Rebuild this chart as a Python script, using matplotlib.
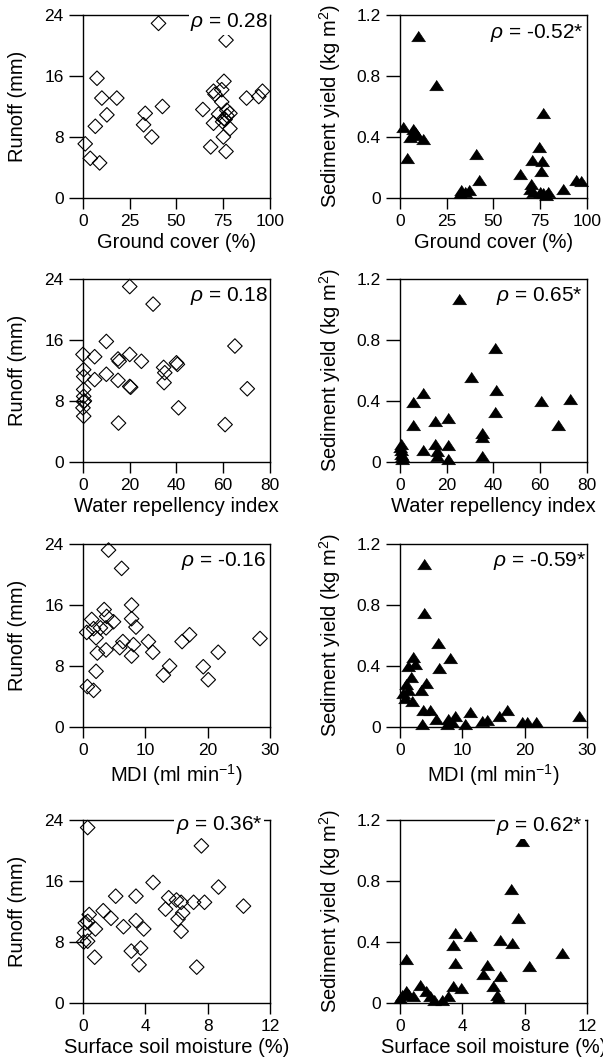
import matplotlib
matplotlib.use('Agg')
import matplotlib.pyplot as plt

plt.rcParams['font.family'] = ['Liberation Sans', 'DejaVu Sans']
plt.rcParams['mathtext.fontset'] = 'custom'
plt.rcParams['mathtext.rm'] = 'Liberation Sans'
plt.rcParams['mathtext.it'] = 'Liberation Sans:italic'

# ground cover (%) vs runoff (mm)
gc_runoff_x = [40.4, 76.5, 7.5, 75.4, 10.1, 18.1, 69.8, 74.2, 87.5, 94.0, 96.0, 12.8, 33.3,
               42.5, 64.1, 74.2, 76.9, 78.6, 75.4, 74.7, 69.8, 78.6, 75.1, 6.6, 32.4, 36.8,
               1.2, 3.9, 8.9, 68.3, 76.5, 70.6, 72.5, 77.0, 76.0]
gc_runoff_y = [22.9, 20.7, 15.7, 15.3, 13.1, 13.1, 14.0, 14.2, 13.1, 13.3, 14.0, 10.9, 11.1,
               12.0, 11.6, 12.6, 11.5, 11.1, 10.4, 10.0, 9.8, 9.1, 8.0, 9.4, 9.6, 8.0,
               7.1, 5.2, 4.6, 6.7, 6.1, 13.6, 11.0, 10.8, 10.3]
# ground cover (%) vs sediment yield
gc_sed_x = [9.8, 19.2, 1.4, 7.1, 8.0, 5.3, 12.1, 8.9, 3.9, 40.4, 42.3, 32.9, 34.7, 37.0,
            76.5, 74.2, 70.6, 76.0, 75.3, 64.1, 70.3, 69.4, 71.2, 74.7, 76.5, 79.2, 87.2,
            94.3, 96.6, 32.0, 78.3]
gc_sed_y = [1.064, 0.742, 0.467, 0.45, 0.43, 0.40, 0.39, 0.41, 0.26, 0.29, 0.12, 0.05, 0.04,
            0.05, 0.555, 0.335, 0.25, 0.24, 0.18, 0.16, 0.09, 0.06, 0.04, 0.04, 0.03, 0.04,
            0.06, 0.12, 0.11, 0.03, 0.02]

# water repellency index vs runoff
wr_runoff_x = [20, 30, 10, 65, 0, 5, 20, 15, 15.5, 25, 34.5, 40, 40.4, 0.3, 0.3, 5, 10, 15,
               20, 20.4, 35, 34.7, 0.3, 0.3, 0.3, 0, 0.3, 40.9, 70.3, 15.2, 60.8, 0.6]
wr_runoff_y = [23.0, 20.7, 15.8, 15.2, 14.1, 13.8, 14.1, 13.5, 13.2, 13.2, 12.4, 13.0, 12.8,
               12.1, 11.2, 10.8, 11.5, 10.7, 9.9, 9.8, 11.7, 10.4, 9.5, 8.6, 7.9, 7.1, 6.0,
               7.1, 9.6, 5.1, 4.9, 8.0]
# water repellency index vs sediment yield
wr_sed_x = [25.2, 40.7, 30.3, 10, 40.9, 5.4, 60.5, 72.9, 40.7, 5.4, 14.9, 20.6, 35.2, 35.3,
            67.6, 0.4, 0.4, 0.7, 0.7, 10, 15.2, 15.7, 15.7, 20.6, 20.6, 35.3, 0, 0.4]
wr_sed_y = [1.07, 0.75, 0.56, 0.45, 0.47, 0.39, 0.40, 0.41, 0.33, 0.24, 0.27, 0.29, 0.19,
            0.165, 0.24, 0.12, 0.08, 0.04, 0.02, 0.08, 0.12, 0.07, 0.04, 0.11, 0.02, 0.04,
            0.10, 0.055]

# MDI (ml min-1) vs runoff
mdi_runoff_x = [4.1, 6.2, 3.4, 7.8, 1.4, 3.8, 4.9, 7.8, 0.6, 1.7, 2.8, 3.7, 8.5, 2.1, 6.4,
                10.5, 15.9, 17.1, 28.4, 5.9, 3.7, 8.1, 2.3, 7.8, 11.2, 21.7, 13.9, 19.3,
                12.9, 2.1, 20.1, 0.7, 1.7]
mdi_runoff_y = [23.2, 20.8, 15.4, 16.0, 14.1, 14.5, 13.8, 14.2, 12.4, 12.9, 13.0, 13.0,
                13.1, 11.7, 11.2, 11.2, 11.2, 12.1, 11.6, 10.4, 10.1, 10.8, 9.7, 9.3, 9.8,
                9.8, 8.0, 7.9, 6.8, 7.3, 6.2, 5.3, 4.8]
# MDI vs sediment yield
mdi_sed_x = [3.8, 3.8, 6.1, 2.1, 8.0, 6.3, 1.3, 2.4, 1.7, 4.2, 1.0, 3.3, 0.5, 1.3, 0.8,
             2.0, 3.7, 4.8, 5.8, 3.6, 7.5, 8.3, 8.8, 11.2, 10.4, 13.1, 14.0, 15.9, 17.2,
             19.6, 20.4, 21.9, 28.7, 7.7]
mdi_sed_y = [1.07, 0.75, 0.55, 0.46, 0.45, 0.39, 0.40, 0.41, 0.33, 0.29, 0.28, 0.24, 0.22,
             0.24, 0.19, 0.17, 0.11, 0.11, 0.055, 0.02, 0.02, 0.03, 0.07, 0.10, 0.02, 0.04,
             0.045, 0.07, 0.11, 0.03, 0.03, 0.03, 0.07, 0.055]

# surface soil moisture (%) vs runoff
sm_runoff_x = [0.3, 7.6, 4.5, 8.7, 2.1, 3.4, 5.5, 6.0, 6.3, 7.1, 7.8, 10.3, 1.3, 5.3, 6.4,
               0.4, 1.8, 3.4, 6.1, 0.15, 0.3, 2.6, 3.9, 0.8, 0.1, 6.3, 0.3, 0.05, 3.1, 3.7,
               0.75, 3.6, 7.3]
sm_runoff_y = [23.0, 20.6, 15.8, 15.2, 14.0, 14.0, 13.8, 13.5, 13.2, 13.2, 13.2, 12.7, 12.1,
               12.3, 11.8, 11.6, 11.1, 10.8, 11.0, 10.5, 10.7, 10.0, 9.7, 9.7, 9.2, 9.4,
               8.1, 8.0, 6.8, 7.2, 6.0, 5.0, 4.7]
# surface soil moisture vs sediment yield
sm_sed_x = [7.8, 7.1, 7.6, 3.5, 4.5, 3.4, 6.4, 7.2, 10.4, 0.4, 3.5, 5.6, 8.3, 5.3, 6.4,
            1.3, 3.4, 3.9, 6.0, 0.1, 0.4, 0.5, 0.85, 1.7, 1.9, 2.2, 2.7, 3.1, 6.2, 6.3, 0.0]
sm_sed_y = [1.064, 0.746, 0.56, 0.46, 0.44, 0.38, 0.41, 0.39, 0.33, 0.29, 0.26, 0.25, 0.24,
            0.19, 0.175, 0.12, 0.11, 0.10, 0.11, 0.055, 0.08, 0.06, 0.045, 0.08, 0.045,
            0.02, 0.02, 0.045, 0.055, 0.03, 0.03]

rho_labels = ['0.28', '-0.52*', '0.18', '0.65*', '-0.16', '-0.59*', '0.36*', '0.62*']
xlabels = ['Ground cover (%)', 'Water repellency index', 'MDI (ml min$^{-1}$)',
           'Surface soil moisture (%)']
xtick_sets = [[0, 25, 50, 75, 100], [0, 20, 40, 60, 80], [0, 10, 20, 30], [0, 4, 8, 12]]
runoff_ticks = [0, 8, 16, 24]
sed_ticks = [0, 0.4, 0.8, 1.2]
sed_ticklabels = ['0', '0.4', '0.8', '1.2']

data = [(gc_runoff_x, gc_runoff_y), (gc_sed_x, gc_sed_y),
        (wr_runoff_x, wr_runoff_y), (wr_sed_x, wr_sed_y),
        (mdi_runoff_x, mdi_runoff_y), (mdi_sed_x, mdi_sed_y),
        (sm_runoff_x, sm_runoff_y), (sm_sed_x, sm_sed_y)]

# position of the rho text in axes coords (right edge, vertical centre)
rho_pos = [(0.99, 0.96), (0.98, 0.90), (0.99, 0.906), (0.98, 0.906),
           (0.98, 0.906), (0.995, 0.906), (0.96, 0.97), (0.98, 0.965)]

fig = plt.figure(figsize=(6.03, 10.61), dpi=100)
lefts = [0.1376, 0.6633]
bottoms = [0.8134, 0.5646, 0.3148, 0.0547]
w, h = 0.3101, 0.1725

tri = [(-1, -0.75), (1, -0.75), (0, 0.75)]

for i, (x, y) in enumerate(data):
    row, col = i // 2, i % 2
    ax = fig.add_axes([lefts[col], bottoms[row], w, h])
    xt = xtick_sets[row]
    if col == 0:
        ax.scatter(x, y, marker='D', s=55, facecolors='none', edgecolors='black',
                   linewidths=0.8, clip_on=False, zorder=3)
        ax.set_ylim(0, 24)
        ax.set_yticks(runoff_ticks)
        ax.set_yticklabels([str(t) for t in runoff_ticks])
        ax.set_ylabel('Runoff (mm)', fontsize=14.5)
        ax.yaxis.set_label_coords(-0.30, 0.5)
    else:
        ax.scatter(x, y, marker=tri, s=100, color='black', edgecolors='black',
                   linewidths=0.5, clip_on=False, zorder=3)
        ax.set_ylim(0, 1.2)
        ax.set_yticks(sed_ticks)
        ax.set_yticklabels(sed_ticklabels)
        ax.set_ylabel('Sediment yield (kg m$^{2}$)', fontsize=14.5)
        ax.yaxis.set_label_coords(-0.305, 0.5)
    ax.set_xlim(xt[0], xt[-1])
    ax.set_xticks(xt)
    ax.set_xticklabels([str(t) for t in xt])
    ax.set_xlabel(xlabels[row], fontsize=14.5)
    ax.xaxis.set_label_coords(0.5, -0.19)

    ax.tick_params(axis='y', direction='out', length=10, width=1, pad=4, labelsize=12.5)
    ax.tick_params(axis='x', direction='out', length=8, width=1, pad=3.5, labelsize=12.5)
    for sp in ax.spines.values():
        sp.set_linewidth(1)
    ax.spines['right'].set_zorder(6)

    rx, ry = rho_pos[i]
    ax.text(rx, ry, r'$\rho$ = ' + rho_labels[i], transform=ax.transAxes,
            ha='right', va='center', fontsize=15, zorder=5,
            bbox=dict(facecolor='white', edgecolor='none', pad=1))

fig.savefig('out.png', dpi=100)
